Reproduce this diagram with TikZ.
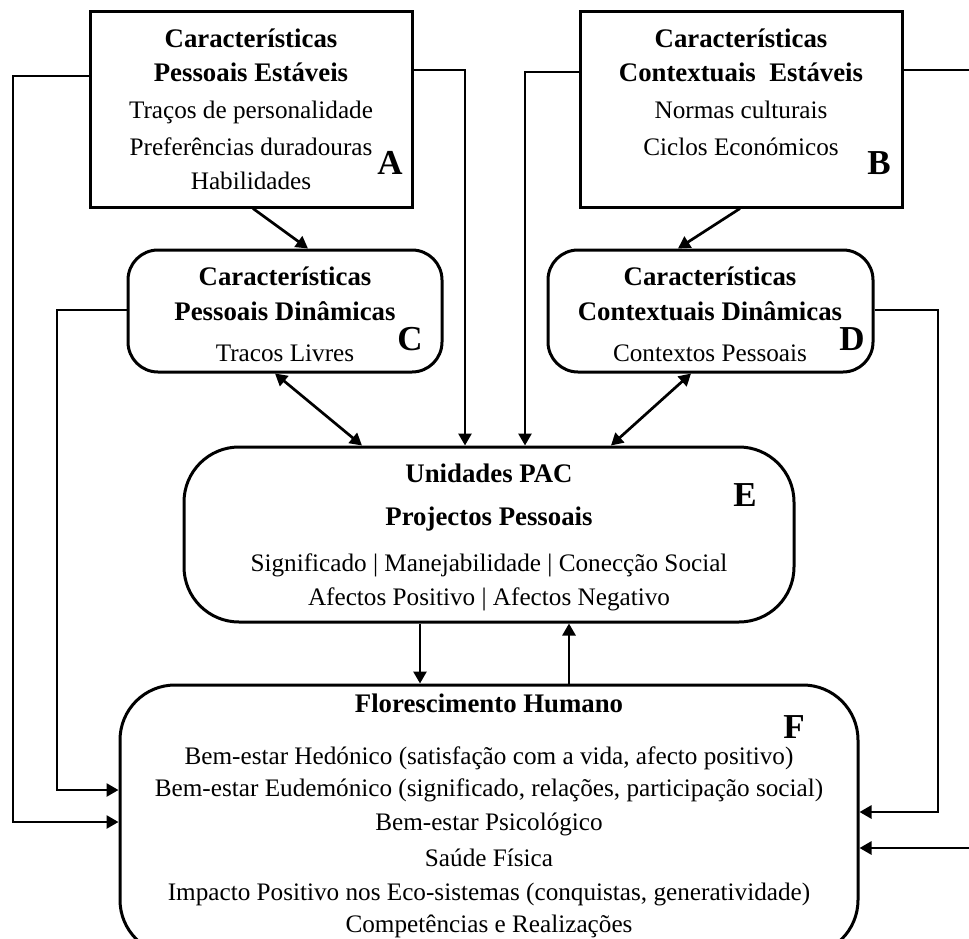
\documentclass[tikz,border=0pt]{standalone}
\usepackage{fontspec}
\setmainfont{Liberation Serif}
\usetikzlibrary{arrows.meta}
\begin{document}
\begin{tikzpicture}[x={(1pt,0pt)},y={(0pt,-1pt)},
  sqbox/.style={draw,line width=3pt,inner sep=0pt},
  rbox/.style={draw,line width=3pt,inner sep=0pt,rounded corners=#1},
  txt/.style={anchor=base,inner sep=0pt,font=\fontsize{25.2}{30}\selectfont},
  ttl/.style={anchor=base,inner sep=0pt,font=\fontsize{26.8}{30}\selectfont\bfseries},
  lbl/.style={anchor=base,inner sep=0pt,font=\fontsize{35}{40}\selectfont\bfseries},
  arr/.style={line width=2.7pt,-{Triangle[length=12pt,width=13pt]}},
  darr/.style={line width=2.7pt,{Triangle[length=12pt,width=13pt]}-{Triangle[length=12pt,width=13pt]}}
]
\useasboundingbox (0,0) rectangle (969,939);
% boxes
\node[sqbox,minimum width=322pt,minimum height=195pt] (A) at (251,109.5) {};
\node[sqbox,minimum width=322pt,minimum height=195pt] (B) at (741,109.5) {};
\node[rbox=30pt,minimum width=314pt,minimum height=122pt] (C) at (285,311) {};
\node[rbox=30pt,minimum width=325pt,minimum height=122pt] (D) at (710.5,311) {};
\node[rbox=55pt,minimum width=610pt,minimum height=175pt] (E) at (489,534.5) {};
\node[rbox=55pt,minimum width=738pt,minimum height=270pt] (F) at (489,820) {};
% A text
\node[ttl] (a1) at (251,48) {Características};
\node[ttl] (a2) at (251,82) {Pessoais Estáveis};
\node[txt] (a3) at (251,119) {Traços de personalidade};
\node[txt] (a4) at (251,155) {Preferências duradouras};
\node[txt] (a5) at (251,189) {Habilidades};
\node[lbl] (la) at (390,174) {A};
% B text
\node[ttl] (b1) at (741,48) {Características};
\node[ttl] (b2) at (741,82) {Contextuais\ \ Estáveis};
\node[txt] (b3) at (741,119) {Normas culturais};
\node[txt] (b4) at (741,155) {Ciclos Económicos};
\node[lbl] (lb) at (879,175) {B};
% C text
\node[ttl] (c1) at (285,285) {Características};
\node[ttl] (c2) at (285,320) {Pessoais Dinâmicas};
\node[txt] (c3) at (285,361) {Tracos Livres};
\node[lbl] (lc) at (410,350) {C};
% D text
\node[ttl] (d1) at (710,285) {Características};
\node[ttl] (d2) at (710,320) {Contextuais Dinâmicas};
\node[txt] (d3) at (710,361) {Contextos Pessoais};
\node[lbl] (ld) at (852,350) {D};
% E text
\node[ttl] (e1) at (489,482) {Unidades PAC};
\node[ttl] (e2) at (489,525) {Projectos Pessoais};
\node[txt] (e3) at (489,571) {Significado | Manejabilidade | Conecção Social};
\node[txt] (e4) at (489,605) {Afectos Positivo | Afectos Negativo};
\node[lbl] (le) at (745,506) {E};
% F text
\node[ttl] (f1) at (489,712) {Florescimento Humano};
\node[lbl] (lf) at (794,738) {F};
\node[txt] (f2) at (489,764) {Bem-estar Hedónico (satisfação com a vida, afecto positivo)};
\node[txt] (f3) at (489,796) {Bem-estar Eudemónico (significado, relações, participação social)};
\node[txt] (f4) at (489,830) {Bem-estar Psicológico};
\node[txt] (f5) at (489,866) {Saúde Física};
\node[txt] (f6) at (489,900) {Impacto Positivo nos Eco-sistemas (conquistas, generatividade)};
\node[txt] (f7) at (489,932) {Competências e Realizações};
% connectors
\draw[arr] (A.south -| 253,0) -- (C.north -| 308,0);
\draw[arr] (B.south -| 740,0) -- (D.north -| 678,0);
\draw[darr] (C.south -| 275,0) -- (E.north -| 362,0);
\draw[darr] (D.south -| 691,0) -- (E.north -| 611,0);
\draw[arr] (A.east |- 0,70) -- (465,70) -- (E.north -| 465,0);
\draw[arr] (B.west |- 0,72) -- (525,72) -- (E.north -| 525,0);
\draw[arr] (A.west |- 0,76) -- (13,76) -- (13,822) -- (F.west |- 0,822);
\draw[arr] (C.west |- 0,310) -- (57,310) -- (57,790) -- (F.west |- 0,790);
\draw[arr] (D.east |- 0,310) -- (938,310) -- (938,812) -- (F.east |- 0,812);
\draw[arr] (B.east |- 0,70) -- (990,70) -- (990,848) -- (F.east |- 0,848);
\draw[arr] (E.south -| 420,0) -- (F.north -| 420,0);
\draw[arr] (F.north -| 569,0) -- (E.south -| 569,0);
\end{tikzpicture}
\end{document}
